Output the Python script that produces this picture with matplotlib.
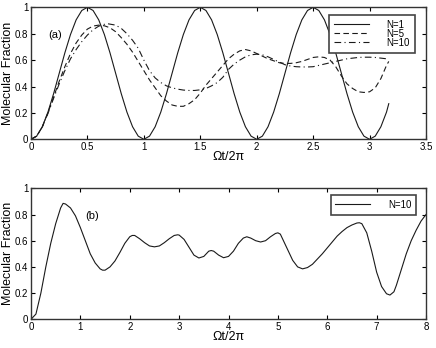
import matplotlib
matplotlib.use("Agg")
import matplotlib.pyplot as plt
from matplotlib.ticker import FormatStrFormatter, MultipleLocator

plt.rcParams['font.family'] = ['Liberation Sans', 'DejaVu Sans']

# ---------------- panel (a) data ----------------
x_n1 = [0.00, 0.05, 0.10, 0.15, 0.20, 0.25, 0.30, 0.35, 0.40, 0.45,
        0.50, 0.55, 0.60, 0.65, 0.70, 0.75, 0.80, 0.85, 0.90, 0.95,
        1.00, 1.05, 1.10, 1.15, 1.20, 1.25, 1.30, 1.35, 1.40, 1.45,
        1.50, 1.55, 1.60, 1.65, 1.70, 1.75, 1.80, 1.85, 1.90, 1.95,
        2.00, 2.05, 2.10, 2.15, 2.20, 2.25, 2.30, 2.35, 2.40, 2.45,
        2.50, 2.55, 2.60, 2.65, 2.70, 2.75, 2.80, 2.85, 2.90, 2.95,
        3.00, 3.05, 3.10, 3.15, 3.17]
y_n1 = [0.000, 0.024, 0.095, 0.206, 0.345, 0.500, 0.655, 0.794, 0.905, 0.976,
        1.000, 0.976, 0.905, 0.794, 0.655, 0.500, 0.345, 0.206, 0.095, 0.024,
        0.000, 0.024, 0.095, 0.206, 0.345, 0.500, 0.655, 0.794, 0.905, 0.976,
        1.000, 0.976, 0.905, 0.794, 0.655, 0.500, 0.345, 0.206, 0.095, 0.024,
        0.000, 0.024, 0.095, 0.206, 0.345, 0.500, 0.655, 0.794, 0.905, 0.976,
        1.000, 0.976, 0.905, 0.794, 0.655, 0.500, 0.345, 0.206, 0.095, 0.024,
        0.000, 0.024, 0.095, 0.206, 0.270]

x_n5 = [0.00, 0.05, 0.10, 0.15, 0.20, 0.25, 0.30, 0.35, 0.40, 0.45,
        0.50, 0.55, 0.60, 0.65, 0.70, 0.75, 0.80, 0.85, 0.90, 0.95,
        1.00, 1.05, 1.10, 1.15, 1.20, 1.25, 1.30, 1.35, 1.40, 1.45,
        1.50, 1.55, 1.60, 1.65, 1.70, 1.75, 1.80, 1.85, 1.90, 1.95,
        2.00, 2.05, 2.10, 2.15, 2.20, 2.25, 2.30, 2.35, 2.40, 2.45,
        2.50, 2.55, 2.60, 2.65, 2.70, 2.75, 2.80, 2.85, 2.90, 2.95,
        3.00, 3.05, 3.10, 3.15, 3.17]
y_n5 = [0.000, 0.024, 0.094, 0.200, 0.320, 0.440, 0.550, 0.650, 0.730, 0.790,
        0.835, 0.858, 0.865, 0.860, 0.845, 0.815, 0.770, 0.720, 0.660, 0.590,
        0.520, 0.450, 0.390, 0.330, 0.290, 0.260, 0.250, 0.250, 0.270, 0.300,
        0.350, 0.410, 0.460, 0.510, 0.560, 0.610, 0.645, 0.670, 0.680, 0.670,
        0.650, 0.630, 0.610, 0.595, 0.580, 0.575, 0.575, 0.580, 0.590, 0.605,
        0.620, 0.625, 0.620, 0.600, 0.550, 0.480, 0.420, 0.385, 0.360, 0.355,
        0.360, 0.390, 0.460, 0.560, 0.590]

x_n10 = [0.00, 0.05, 0.10, 0.15, 0.20, 0.25, 0.30, 0.35, 0.40, 0.45,
         0.50, 0.55, 0.60, 0.67, 0.75, 0.80, 0.85, 0.90, 0.95,
         1.00, 1.05, 1.10, 1.15, 1.20, 1.25, 1.30, 1.35, 1.40, 1.45,
         1.50, 1.55, 1.60, 1.65, 1.70, 1.75, 1.80, 1.85, 1.90, 1.95,
         2.00, 2.05, 2.10, 2.15, 2.20, 2.25, 2.30, 2.35, 2.40, 2.45,
         2.50, 2.55, 2.60, 2.65, 2.70, 2.75, 2.80, 2.85, 2.90, 2.95,
         3.00, 3.05, 3.10, 3.15, 3.17]
y_n10 = [0.000, 0.024, 0.093, 0.195, 0.310, 0.420, 0.520, 0.610, 0.680, 0.740,
         0.790, 0.830, 0.857, 0.877, 0.865, 0.840, 0.800, 0.750, 0.690,
         0.600, 0.520, 0.465, 0.430, 0.405, 0.390, 0.380, 0.373, 0.370, 0.370,
         0.375, 0.385, 0.405, 0.430, 0.470, 0.530, 0.570, 0.600, 0.625, 0.640,
         0.645, 0.640, 0.625, 0.605, 0.585, 0.565, 0.555, 0.550, 0.548, 0.548,
         0.550, 0.560, 0.570, 0.580, 0.590, 0.600, 0.610, 0.615, 0.620, 0.622,
         0.622, 0.620, 0.615, 0.610, 0.605]

# ---------------- panel (b) data ----------------
x_b = [0.0, 0.1, 0.2, 0.3, 0.4, 0.5, 0.6, 0.65, 0.7, 0.8, 0.9,
       1.0, 1.1, 1.2, 1.3, 1.4, 1.45, 1.5, 1.6, 1.7, 1.8, 1.9,
       2.0, 2.05, 2.1, 2.2, 2.3, 2.4, 2.5, 2.6, 2.7, 2.8, 2.9, 2.97,
       3.0, 3.1, 3.2, 3.3, 3.4, 3.5, 3.6, 3.65, 3.7, 3.8, 3.9,
       4.0, 4.1, 4.2, 4.3, 4.37, 4.45, 4.55, 4.65, 4.75, 4.85, 4.95,
       5.0, 5.05, 5.1, 5.2, 5.3, 5.4, 5.5, 5.6, 5.7, 5.8, 5.9,
       6.0, 6.1, 6.2, 6.3, 6.4, 6.5, 6.6, 6.65, 6.7, 6.8, 6.9,
       7.0, 7.1, 7.2, 7.27, 7.35, 7.4, 7.5, 7.6, 7.7, 7.8, 7.9, 8.0]
y_b = [0.000, 0.040, 0.200, 0.400, 0.580, 0.730, 0.850, 0.885, 0.880, 0.850, 0.790,
       0.700, 0.600, 0.500, 0.430, 0.385, 0.375, 0.375, 0.400, 0.445, 0.510, 0.580,
       0.630, 0.640, 0.640, 0.615, 0.585, 0.560, 0.553, 0.560, 0.585, 0.615, 0.640, 0.645,
       0.643, 0.610, 0.550, 0.490, 0.468, 0.480, 0.520, 0.525, 0.520, 0.490, 0.470,
       0.480, 0.520, 0.580, 0.620, 0.630, 0.620, 0.600, 0.590, 0.600, 0.630, 0.655,
       0.660, 0.650, 0.610, 0.530, 0.450, 0.400, 0.385, 0.395, 0.420, 0.460, 0.500,
       0.545, 0.590, 0.635, 0.670, 0.700, 0.720, 0.735, 0.737, 0.730, 0.660, 0.520,
       0.360, 0.250, 0.195, 0.185, 0.210, 0.260, 0.380, 0.500, 0.600, 0.680, 0.750, 0.800]

labels_a = ['N=1', 'N=5', 'N=10']
labels_b = ['N=10']

line_color = '#1a1a1a'
axis_color = '#333333'

fig = plt.figure(figsize=(4.36, 3.48), dpi=100)
ax1 = fig.add_axes([0.0711, 0.5997, 0.906, 0.3793])
ax2 = fig.add_axes([0.0711, 0.0825, 0.906, 0.3764])

lw = 0.8
ax1.plot(x_n1, y_n1, color=line_color, lw=lw, ls='-', label=labels_a[0])
ax1.plot(x_n5, y_n5, color=line_color, lw=lw, ls=(0, (5, 3)), label=labels_a[1])
ax1.plot(x_n10, y_n10, color=line_color, lw=lw, ls=(0, (6, 3, 1, 3)), label=labels_a[2])
ax2.plot(x_b, y_b, color=line_color, lw=lw, ls='-', label=labels_b[0])

for ax, xmax, xstep in [(ax1, 3.5, 0.5), (ax2, 8, 1)]:
    ax.set_xlim(0, xmax)
    ax.set_ylim(0, 1)
    ax.xaxis.set_major_locator(MultipleLocator(xstep))
    ax.yaxis.set_major_locator(MultipleLocator(0.2))
    ax.xaxis.set_major_formatter(FormatStrFormatter('%g'))
    ax.yaxis.set_major_formatter(FormatStrFormatter('%g'))
    ax.tick_params(direction='in', length=3, width=0.8, top=True, right=True,
                   labelsize=7, pad=2, colors='black')
    for sp in ax.spines.values():
        sp.set_color(axis_color)
        sp.set_linewidth(1.0)
    ax.set_xlabel('Ωt/2π', fontsize=9, labelpad=-1)
    ax.set_ylabel('Molecular Fraction', fontsize=9, labelpad=0.5)

ax1.text(0.217, 0.79, '(a)', fontsize=8, ha='center', va='center')
ax2.text(1.235, 0.79, '(b)', fontsize=8, ha='center', va='center')

leg_kw = dict(fontsize=7, frameon=True, fancybox=False, borderaxespad=0,
              handlelength=3.6, handletextpad=1.8, borderpad=0.5, labelspacing=-0.1,
              loc='upper right')
lg1 = ax1.legend(bbox_to_anchor=(0.972, 0.942), **leg_kw)
lg2 = ax2.legend(bbox_to_anchor=(0.975, 0.949), **leg_kw)
for lg in (lg1, lg2):
    fr = lg.get_frame()
    fr.set_edgecolor('#444444')
    fr.set_linewidth(1.2)
    fr.set_facecolor('white')
    fr.set_alpha(1)

fig.savefig('out.png', dpi=100)
